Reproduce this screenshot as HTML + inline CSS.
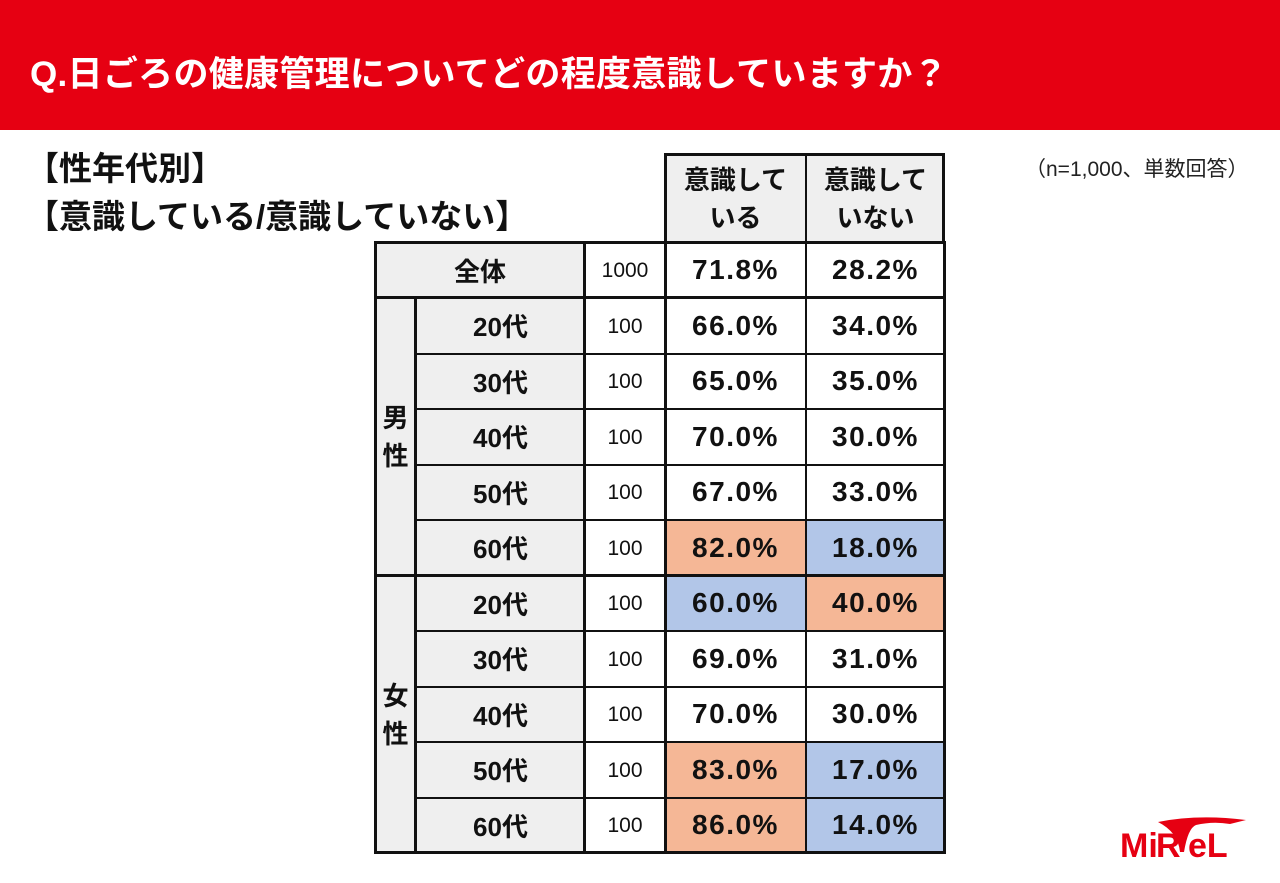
<!DOCTYPE html>
<html><head><meta charset="utf-8"><style>
body{margin:0;width:1280px;height:883px;background:#fff;position:relative;overflow:hidden;font-family:"Liberation Sans","Noto Sans CJK JP",sans-serif;}
.hdr{position:absolute;left:0;top:0;width:1280px;height:130px;background:#e60012;}
.hdr div{position:absolute;left:30px;top:46px;color:#fff;font-size:35px;font-weight:bold;letter-spacing:0.3px;}
.t{position:absolute;font-weight:bold;color:#111;font-size:33px;}
.c{position:absolute;box-sizing:border-box;border:1.5px solid #111;display:flex;align-items:center;justify-content:center;color:#111;}
.g{background:#efefef;}
.p{font-size:28px;font-weight:bold;letter-spacing:1.5px;}
.n{font-size:21px;padding-top:2px;}
.a{font-size:26px;font-weight:bold;}
.o{background:#f5b796;}
.b{background:#b2c6e8;}
</style></head><body>
<div class="hdr"><div>Q.日ごろの健康管理についてどの程度意識していますか？</div></div>
<div class="t" style="left:26px;top:142px;">【性年代別】</div>
<div class="t" style="left:26px;top:190px;">【意識している/意識していない】</div>
<div style="position:absolute;left:1025px;top:153px;font-size:21px;color:#222;">（n=1,000、単数回答）</div>

<div class="c g a" style="left:665px;top:155px;width:141px;height:88px;flex-direction:column;line-height:38px;">意識して<span>いる</span></div>
<div class="c g a" style="left:806px;top:155px;width:139px;height:88px;flex-direction:column;line-height:38px;">意識して<span>いない</span></div>
<div style="position:absolute;left:664px;top:153px;width:281px;height:90px;border:3px solid #111;border-bottom:none;box-sizing:border-box;"></div>

<div class="c g a" style="left:375px;top:242px;width:210px;height:56px;">全体</div>
<div class="c n" style="left:585px;top:242px;width:80px;height:56px;">1000</div>
<div class="c p" style="left:665px;top:242px;width:141px;height:56px;">71.8%</div>
<div class="c p" style="left:806px;top:242px;width:139px;height:56px;">28.2%</div>

<div class="c g a" style="left:375px;top:298px;width:41px;height:278px;line-height:38px;flex-direction:column;">男<span>性</span></div>
<div class="c g a" style="left:375px;top:576px;width:41px;height:277px;line-height:38px;flex-direction:column;">女<span>性</span></div>

<div id="rows"></div>
<div style="position:absolute;left:374px;top:241px;width:572px;height:613px;border:3px solid #111;box-sizing:border-box;"></div>
<div style="position:absolute;left:374px;top:296px;width:572px;height:3px;background:#111;"></div>
<div style="position:absolute;left:374px;top:574px;width:572px;height:3px;background:#111;"></div>
<div style="position:absolute;left:414px;top:296px;width:3px;height:558px;background:#111;"></div>
<div style="position:absolute;left:583px;top:241px;width:3px;height:613px;background:#111;"></div>
<div style="position:absolute;left:664px;top:153px;width:3px;height:701px;background:#111;"></div>

<svg style="position:absolute;left:1118px;top:812px" width="130" height="50">
<path d="M40 10 Q80 2 128 8 L112 12 Q95 9 78 13 Q70 16 66 40 L62 40 Q60 20 40 10Z" fill="#e60012"/>
<text x="2" y="45" font-family="Liberation Sans" font-weight="bold" font-size="34" fill="#e60012">Mi</text>
<text x="38" y="45" font-family="Liberation Sans" font-weight="bold" font-size="34" fill="#e60012">R</text>
<text x="70" y="45" font-family="Liberation Sans" font-weight="bold" font-size="34" fill="#e60012">eL</text>
</svg>
<script>
var d=[["20代","66.0%","34.0%","",""],["30代","65.0%","35.0%","",""],["40代","70.0%","30.0%","",""],["50代","67.0%","33.0%","",""],["60代","82.0%","18.0%","o","b"],["20代","60.0%","40.0%","b","o"],["30代","69.0%","31.0%","",""],["40代","70.0%","30.0%","",""],["50代","83.0%","17.0%","o","b"],["60代","86.0%","14.0%","o","b"]];
var h="";d.forEach(function(r,i){var y=298+i*55.5;
h+='<div class="c g a" style="left:416px;top:'+y+'px;width:169px;height:55.5px;">'+r[0]+'</div>';
h+='<div class="c n" style="left:585px;top:'+y+'px;width:80px;height:55.5px;">100</div>';
h+='<div class="c p '+r[3]+'" style="left:665px;top:'+y+'px;width:141px;height:55.5px;">'+r[1]+'</div>';
h+='<div class="c p '+r[4]+'" style="left:806px;top:'+y+'px;width:139px;height:55.5px;">'+r[2]+'</div>';});
document.getElementById("rows").innerHTML=h;
</script>
</body></html>
